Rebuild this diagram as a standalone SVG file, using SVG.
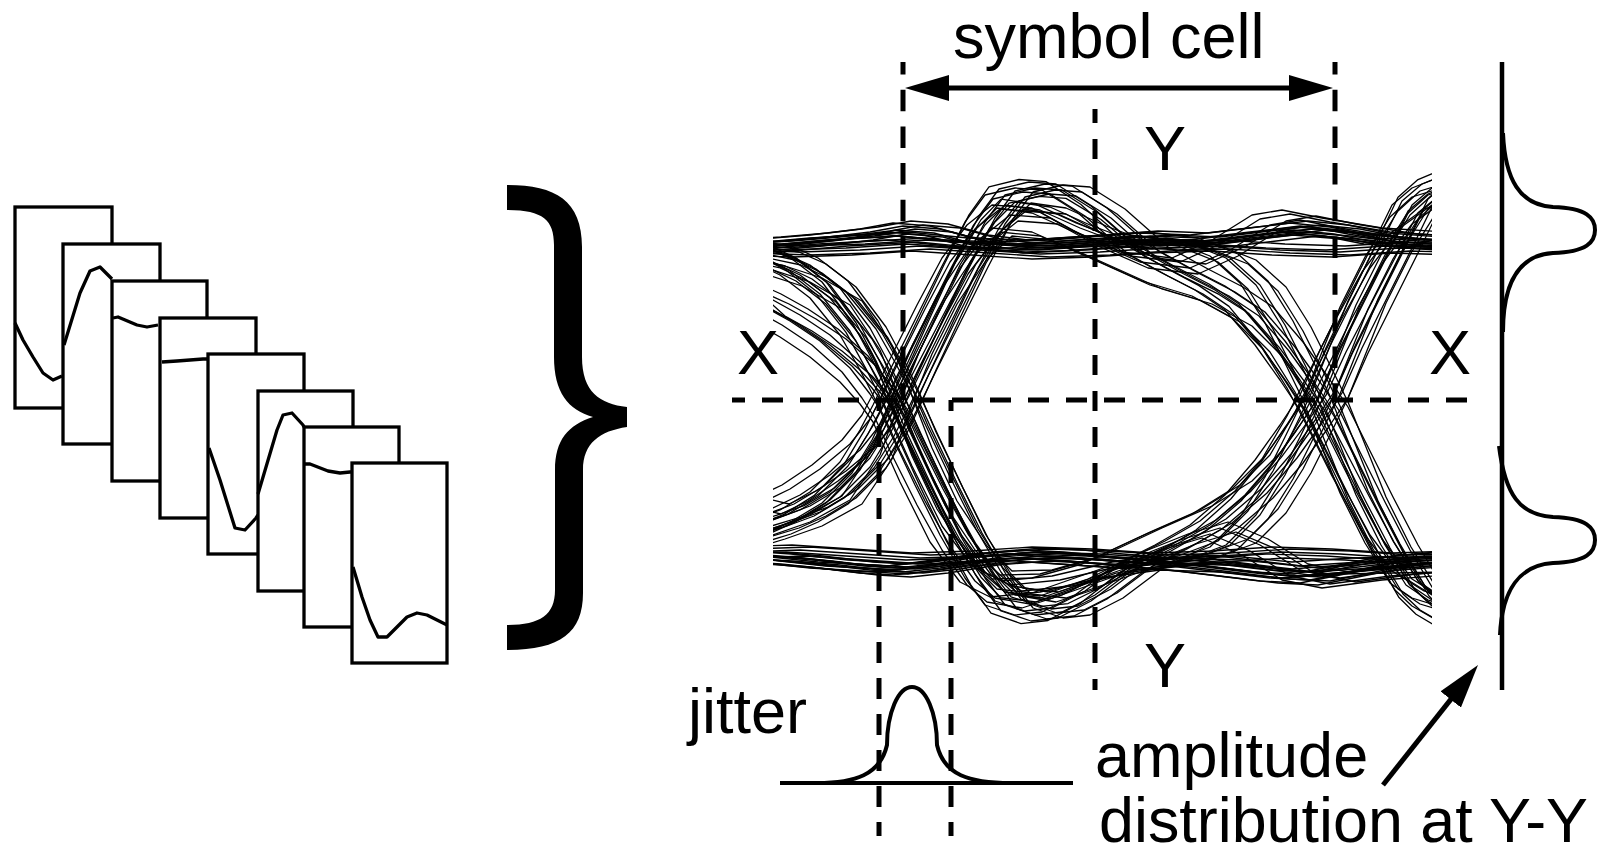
<svg xmlns="http://www.w3.org/2000/svg" width="1600" height="856" viewBox="0 0 1600 856">
<style>
.t{font-family:"Liberation Sans",Arial,sans-serif;font-size:63px;fill:#000}
.fr{fill:#fff;stroke:#000;stroke-width:3.3}
.wv{fill:none;stroke:#000;stroke-width:3.3;stroke-linejoin:round}
.tr{fill:none;stroke:#000;stroke-width:1.3;stroke-linejoin:round}
.d{fill:none;stroke:#000;stroke-width:5}
.thick{fill:none;stroke:#000;stroke-width:4}
.arr{fill:none;stroke:#000;stroke-width:5}
</style>
<defs>
<marker id="ah" viewBox="0 0 44 26" refX="19" refY="13" markerWidth="44" markerHeight="26" markerUnits="userSpaceOnUse" orient="auto-start-reverse"><path d="M0,0 L44,13 L0,26 Z" fill="#000"/></marker>
<clipPath id="eyeclip"><rect x="773" y="140" width="659" height="520"/></clipPath>
<path id="t1" d="M740 244 773 242 820 238 870 232 903 226 940 229 980 240 1020 245 1060 243 1100 240 1150 236 1200 238 1250 232 1300 226 1340 230 1380 238 1432 242 1465 243"/>
<path id="t1b" d="M740 250 800 252 860 250 920 246 980 250 1040 254 1100 252 1160 248 1220 246 1280 250 1340 252 1400 248 1465 250"/>
<path id="t2" d="M740 558 773 560 820 564 870 570 903 572 940 568 990 560 1040 556 1080 558 1120 562 1170 566 1220 572 1270 578 1310 580 1350 572 1390 564 1432 560 1465 558"/>
<path id="t2b" d="M740 552 800 550 860 554 920 558 980 556 1040 552 1100 554 1160 558 1220 556 1280 552 1340 554 1400 558 1465 556"/>
<path id="t3" d="M740 530 773 520 800 510 830 492 860 462 880 430 893 405 910 370 935 320 960 270 985 222 1005 195 1035 188 1062 190 1097 212 1140 250 1180 272 1215 290 1245 310 1275 345 1300 380 1320 410 1340 450 1365 500 1390 548 1415 590 1432 606 1465 625"/>
<path id="t4" d="M740 255 773 262 800 275 830 298 860 335 880 370 893 395 910 432 935 485 960 535 985 578 1005 605 1035 615 1062 612 1095 595 1135 565 1175 545 1210 525 1245 495 1275 460 1300 425 1320 395 1340 350 1365 300 1390 250 1412 205 1432 188 1465 175"/>
<path id="t5" d="M740 540 773 530 800 518 830 500 860 470 880 437 893 410 910 372 935 318 960 265 985 225 1005 205 1040 210 1080 228 1120 243 1160 246 1200 244 1250 238 1300 232 1350 236 1400 242 1432 244 1465 244"/>
<path id="t6" d="M740 245 773 250 800 262 830 285 860 325 880 362 893 390 910 430 935 482 960 533 985 572 1005 592 1040 596 1080 582 1120 568 1160 562 1200 560 1250 566 1300 572 1350 568 1400 562 1432 560 1465 560"/>
<path id="t7" d="M740 246 773 245 830 240 900 236 960 242 1020 244 1080 240 1140 236 1190 242 1230 258 1260 285 1285 325 1305 365 1322 400 1340 445 1360 495 1385 545 1410 585 1432 600 1465 610"/>
<path id="t8" d="M740 558 773 560 830 566 900 570 960 562 1020 558 1080 562 1140 566 1190 560 1230 545 1260 515 1285 475 1305 435 1322 400 1340 355 1360 305 1385 255 1410 215 1432 195 1465 185"/>
<path id="t9" d="M740 285 773 300 800 315 830 335 860 362 880 388 893 408 910 445 935 495 960 540 985 575 1005 592 1040 598 1080 585 1130 560 1180 540 1220 528 1260 545 1300 570 1340 578 1400 570 1465 565"/>
<path id="t10" d="M740 500 773 508 800 495 830 475 860 450 880 425 893 400 910 365 935 315 960 268 985 235 1010 215 1050 218 1090 240 1140 262 1190 268 1230 250 1270 225 1300 220 1340 228 1400 238 1465 242"/>
<path id="t11" d="M740 280 773 310 800 325 830 345 860 370 880 392 893 410 920 470 950 530 980 570 1010 585 1060 580 1120 566 1180 558 1240 560 1300 566 1360 562 1465 560"/>
<path id="t12" d="M740 545 773 535 810 522 850 500 880 455 900 400 920 350 945 300 975 255 1000 232 1040 236 1090 258 1150 285 1200 300 1240 322 1270 352 1295 392 1315 430 1340 480 1370 535 1400 575 1432 595 1465 605"/>
<path id="t13" d="M740 262 773 270 810 282 850 305 880 350 900 400 920 452 945 505 975 550 1000 575 1040 574 1090 560 1150 532 1200 510 1240 485 1270 455 1295 412 1315 372 1340 322 1370 268 1400 228 1432 205 1465 195"/>
</defs>
<rect width="1600" height="856" fill="#fff"/>

<g id="frames">
<g id="frame1"><rect class="fr" x="15" y="207" width="97" height="201"/><path class="wv" d="M15,323 L23,340 L33,357 L43,373 L53,380 L62,376"/></g>
<g id="frame2"><rect class="fr" x="63" y="244" width="97" height="200"/><path class="wv" d="M64,345 L80,293 L90,271 L100,267 L112,279"/></g>
<g id="frame3"><rect class="fr" x="112" y="281" width="95" height="200"/><path class="wv" d="M113,318 L118,317 L137,325 L147,327 L158,325"/></g>
<g id="frame4"><rect class="fr" x="160" y="318" width="96" height="200"/><path class="wv" d="M162,362 L177,361 L203,359 L208,359"/></g>
<g id="frame5"><rect class="fr" x="208" y="354" width="96" height="200"/><path class="wv" d="M209,448 L220,480 L235,528 L245,530 L256,518 L258,515"/></g>
<g id="frame6"><rect class="fr" x="258" y="391" width="95" height="200"/><path class="wv" d="M258,494 L277,430 L283,415 L292,413 L303,425 L304,427"/></g>
<g id="frame7"><rect class="fr" x="304" y="427" width="95" height="200"/><path class="wv" d="M305,464 L310,464 L328,471 L340,473 L350,472 L352,472"/></g>
<g id="frame8"><rect class="fr" x="352" y="463" width="95" height="200"/><path class="wv" d="M353,567 L362,597 L370,620 L378,637 L387,637 L397,627 L407,617 L417,613 L427,615 L447,625"/></g>
</g>

<g id="brace">
<path fill="#000" d="M507,185 C555,185 582,200 582,247 L582,357 C582,392 600,404 627,407 L627,427 C600,431 583,443 583,470 L583,593 C583,633 560,650 507,650 L507,625 C540,625 555,615 555,590 L555,470 C555,440 568,425 593,417 C568,410 554,392 554,357 L554,245 C554,220 543,210 507,210 Z"/>
</g>

<g id="eye-traces" class="tr" clip-path="url(#eyeclip)">
<use href="#t1"/><use href="#t1" transform="translate(-6,4)"/><use href="#t1" transform="translate(8,-5)"/><use href="#t1" transform="translate(3,8)"/><use href="#t1" transform="translate(-10,-3)"/><use href="#t1" transform="translate(12,3)"/><use href="#t1" transform="translate(20,-1)"/><use href="#t1" transform="translate(-16,6)"/>
<use href="#t1b"/><use href="#t1b" transform="translate(5,-6)"/><use href="#t1b" transform="translate(-8,5)"/><use href="#t1b" transform="translate(10,3)"/><use href="#t1b" transform="translate(-14,-2)"/>
<use href="#t2"/><use href="#t2" transform="translate(-6,-4)"/><use href="#t2" transform="translate(8,5)"/><use href="#t2" transform="translate(3,-8)"/><use href="#t2" transform="translate(-10,3)"/><use href="#t2" transform="translate(12,-3)"/><use href="#t2" transform="translate(20,1)"/><use href="#t2" transform="translate(-16,-6)"/>
<use href="#t2b"/><use href="#t2b" transform="translate(5,6)"/><use href="#t2b" transform="translate(-8,-5)"/><use href="#t2b" transform="translate(10,-3)"/><use href="#t2b" transform="translate(-14,2)"/>
<use href="#t3"/><use href="#t3" transform="translate(-12,4)"/><use href="#t3" transform="translate(10,-4)"/><use href="#t3" transform="translate(20,2)"/><use href="#t3" transform="translate(-6,-6)"/><use href="#t3" transform="matrix(1 0 0 0.96 4 16)"/><use href="#t3" transform="matrix(1 0 0 1.04 -16 -16)"/><use href="#t3" transform="translate(14,6)"/><use href="#t3" transform="translate(28,-3)"/><use href="#t3" transform="translate(-20,0)"/>
<use href="#t4"/><use href="#t4" transform="translate(-10,-4)"/><use href="#t4" transform="translate(12,4)"/><use href="#t4" transform="translate(22,-2)"/><use href="#t4" transform="translate(-4,6)"/><use href="#t4" transform="matrix(1 0 0 0.96 6 16)"/><use href="#t4" transform="matrix(1 0 0 1.04 -14 -16)"/><use href="#t4" transform="translate(16,-6)"/><use href="#t4" transform="translate(28,3)"/><use href="#t4" transform="translate(-20,0)"/>
<use href="#t5"/><use href="#t5" transform="translate(-8,3)"/><use href="#t5" transform="translate(10,-3)"/><use href="#t5" transform="translate(18,4)"/><use href="#t5" transform="matrix(1 0 0 1.03 -4 -12)"/><use href="#t5" transform="translate(26,-2)"/>
<use href="#t6"/><use href="#t6" transform="translate(-8,-3)"/><use href="#t6" transform="translate(10,3)"/><use href="#t6" transform="translate(18,-4)"/><use href="#t6" transform="matrix(1 0 0 1.03 -4 -12)"/><use href="#t6" transform="translate(26,2)"/>
<use href="#t7"/><use href="#t7" transform="translate(-12,4)"/><use href="#t7" transform="translate(8,-4)"/><use href="#t7" transform="translate(18,6)"/><use href="#t7" transform="translate(-20,-2)"/><use href="#t7" transform="translate(26,2)"/><use href="#t7" transform="translate(-4,0)"/>
<use href="#t8"/><use href="#t8" transform="translate(-12,-4)"/><use href="#t8" transform="translate(8,4)"/><use href="#t8" transform="translate(18,-6)"/><use href="#t8" transform="translate(-20,2)"/><use href="#t8" transform="translate(26,-2)"/><use href="#t8" transform="translate(-4,0)"/>
<use href="#t9"/><use href="#t9" transform="translate(-10,6)"/><use href="#t9" transform="translate(8,-6)"/><use href="#t9" transform="translate(16,4)"/><use href="#t9" transform="translate(-18,10)"/>
<use href="#t10"/><use href="#t10" transform="translate(-10,-6)"/><use href="#t10" transform="translate(8,6)"/><use href="#t10" transform="translate(16,-4)"/><use href="#t10" transform="translate(-18,-10)"/>
<use href="#t11"/><use href="#t11" transform="translate(12,6)"/><use href="#t11" transform="translate(-8,-4)"/><use href="#t11" transform="translate(-20,12)"/>
<use href="#t12"/><use href="#t12" transform="translate(12,4)"/><use href="#t12" transform="translate(-8,-4)"/>
<use href="#t13"/><use href="#t13" transform="translate(12,-4)"/><use href="#t13" transform="translate(-8,4)"/>
</g>

<g id="guides">
<line class="d" x1="903" y1="62" x2="903" y2="400" stroke-dasharray="21.5 15.2" stroke-dashoffset="9"/>
<line class="d" x1="1335" y1="62" x2="1335" y2="400" stroke-dasharray="21.5 15.2" stroke-dashoffset="9"/>
<line class="d" x1="1095" y1="109" x2="1095" y2="690" stroke-dasharray="20 16" stroke-dashoffset="6"/>
<line class="d" x1="732" y1="400" x2="1468" y2="400" stroke-dasharray="21 17" stroke-dashoffset="8"/>
<line class="d" x1="879" y1="400" x2="879" y2="836" stroke-dasharray="21 15" stroke-dashoffset="10"/>
<line class="d" x1="951" y1="400" x2="951" y2="836" stroke-dasharray="21 15" stroke-dashoffset="10"/>
</g>

<g id="jitter-dist">
<line class="thick" x1="780" y1="783" x2="1073" y2="783"/>
<path class="thick" d="M817,783 C855,783 880,775 887,745 A25 58 0 0 1 937,745 C944,775 969,783 1011,783"/>
</g>

<g id="amplitude-dist">
<line x1="1502" y1="62" x2="1502" y2="690" stroke="#000" stroke-width="4.5"/>
<path class="thick" d="M1503,133 C1505,180 1520,205 1553,207 C1587,208 1595,218 1595,230 C1595,242 1587,252 1553,253 C1520,255 1503,280 1503,332"/>
<path class="thick" d="M1499,446 C1505,495 1520,515 1553,517 C1587,518 1595,528 1595,540 C1595,552 1587,562 1553,563 C1520,565 1502,590 1500,635"/>
</g>

<g id="connectors">
<line class="arr" x1="930" y1="88" x2="1308" y2="88" marker-start="url(#ah)" marker-end="url(#ah)"/>
<line class="arr" x1="1383" y1="785" x2="1462.5" y2="684.6" marker-end="url(#ah)"/>
</g>

<g id="labels">
<text class="t" x="953" y="58">symbol cell</text>
<text class="t" x="1144" y="170">Y</text>
<text class="t" x="737" y="374">X</text>
<text class="t" x="1429" y="374">X</text>
<text class="t" x="1144" y="687">Y</text>
<text class="t" x="688" y="733">jitter</text>
<text class="t" x="1095" y="777">amplitude</text>
<text class="t" x="1099" y="842" textLength="489" lengthAdjust="spacingAndGlyphs">distribution at Y-Y</text>
</g>
</svg>
